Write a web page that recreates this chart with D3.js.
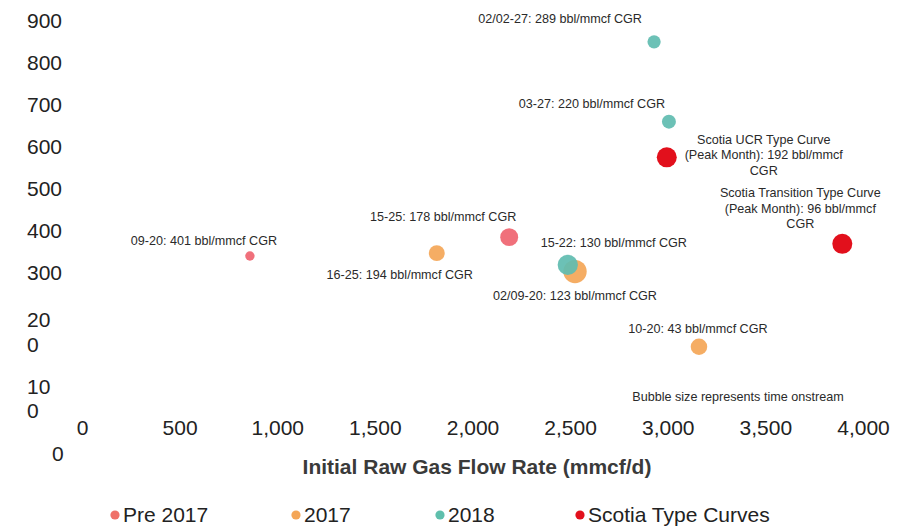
<!DOCTYPE html>
<html><head><meta charset="utf-8">
<script src="https://cdn.jsdelivr.net/npm/d3@7"></script>
<style>
html,body{margin:0;padding:0;background:#fff;}
svg{display:block;font-family:"Liberation Sans",Arial,sans-serif;}
</style></head>
<body>
<svg id="chart" width="908" height="527"></svg>
<script>
// ---- data ----
const wellNames = ["09-20","15-25","16-25","02/09-20","10-20","15-22","02/02-27","03-27","Scotia UCR","Scotia Transition"];
const wellGroups = ["Pre 2017","Pre 2017","2017","2017","2017","2018","2018","2018","Scotia Type Curves","Scotia Type Curves"];
const gasRate = [860, 2188, 1817, 2525, 3160, 2488, 2930, 3006, 2995, 3894];      // mmcf/d
const yValue = [338, 383, 345, 301, 122, 317, 848, 658, 573, 367];
const timeOnstream = [1.8, 6.6, 5.2, 11.2, 5.6, 8.4, 3.6, 4.0, 8.2, 8.2];
const labelTexts = [
  ["09-20: 401 bbl/mmcf CGR"],
  ["15-25: 178 bbl/mmcf CGR"],
  ["16-25: 194 bbl/mmcf CGR"],
  ["02/09-20: 123 bbl/mmcf CGR"],
  ["10-20: 43 bbl/mmcf CGR"],
  ["15-22: 130 bbl/mmcf CGR"],
  ["02/02-27: 289 bbl/mmcf CGR"],
  ["03-27: 220 bbl/mmcf CGR"],
  ["Scotia UCR Type Curve","(Peak Month): 192 bbl/mmcf","CGR"],
  ["Scotia Transition Type Curve","(Peak Month): 96 bbl/mmcf","CGR"]
];
const legendGroups = ["Pre 2017","2017","2018","Scotia Type Curves"];
const xTickValues = [0,500,1000,1500,2000,2500,3000,3500,4000];
const yTickValues = [900,800,700,600,500,400,300,200,100,0];
const xTitle = "Initial Raw Gas Flow Rate (mmcf/d)";
const noteText = "Bubble size represents time onstream";

// ---- layout / style ----
const colors = {"Pre 2017":"#ef7068","2017":"#f4a657","2018":"#5fbfac","Scotia Type Curves":"#e2101c"};
const groupFill = {"Pre 2017":"#ef6470","2017":"#f4a657","2018":"#5fbcb0","Scotia Type Curves":"#e2101c"};
// label offsets relative to bubble (dx, dy of first line centre)
const labelOffsets = [[-46,-16],[-66,-21],[-37,21],[0,24],[-1,-18],[46,-22],[-94,-23],[-77,-18],[97,-18],[-42,-51]];
const drawOrder = [0,1,2,3,4,5,6,7,8,9];

const svg = d3.select("#chart");
const x = d3.scaleLinear().domain([0,4000]).range([82,863]);
const y = d3.scaleLinear().domain([0,900]).range([398,20]);
const r = d3.scaleSqrt().domain([0,12]).range([0,12.1]);

// x axis ticks
const xAxis = d3.axisBottom(x).tickValues(xTickValues).tickFormat(d3.format(",")).tickSize(0).tickPadding(0);
const gx = svg.append("g").attr("transform","translate(0,422)").call(xAxis);
gx.select(".domain").remove();
gx.selectAll("text").attr("font-size",21).attr("fill","#222")
  .attr("font-family","'Liberation Sans',Arial,sans-serif").attr("dy","0.6em");

// y axis tick labels (reproducing wrapped lower labels)
const yExtra = {200:[[5,"20"],[30,"0"]],100:[[30,"10"],[54,"0"]],0:[[55,"0"]]};
const gy = svg.append("g");
yTickValues.forEach(v=>{
  const lines = yExtra[v] || [[0,String(v)]];
  lines.forEach(([dy,t])=>{
    gy.append("text").attr("x", v===0 ? 52 : 27).attr("y", y(v)+dy)
      .attr("dy","0.36em").attr("font-size",21).attr("fill","#222").text(t);
  });
});

// bubbles
svg.append("g").selectAll("circle").data(drawOrder).join("circle")
  .attr("cx",i=>x(gasRate[i])).attr("cy",i=>y(yValue[i]))
  .attr("r",i=>r(timeOnstream[i]))
  .attr("fill",i=>groupFill[wellGroups[i]])
  .attr("fill-opacity",i=>wellGroups[i]==="Scotia Type Curves"?1:0.92);

// labels
const gl = svg.append("g");
drawOrder.forEach(i=>{
  const cx = x(gasRate[i]) + labelOffsets[i][0];
  const cy = y(yValue[i]) + labelOffsets[i][1];
  labelTexts[i].forEach((t,k)=>{
    gl.append("text").attr("x",cx).attr("y",cy+k*15.5).attr("dy","0.36em")
      .attr("text-anchor","middle").attr("font-size",12.6).attr("fill","#2a2a2a").text(t);
  });
});

// note
svg.append("text").attr("x",738).attr("y",396).attr("dy","0.36em").attr("text-anchor","middle")
  .attr("font-size",12.6).attr("fill","#2a2a2a").text(noteText);

// x title
svg.append("text").attr("x",477).attr("y",466).attr("dy","0.36em").attr("text-anchor","middle")
  .attr("font-size",21).attr("font-weight","bold").attr("fill","#3a3a3a").text(xTitle);

// legend
const legendX = [115,296,440,580];
const lg = svg.append("g");
legendGroups.forEach((g,i)=>{
  lg.append("circle").attr("cx",legendX[i]).attr("cy",515).attr("r",4.6).attr("fill",colors[g]);
  lg.append("text").attr("x",legendX[i]+8).attr("y",514).attr("dy","0.36em")
    .attr("font-size",21).attr("fill","#222").text(g);
});
</script>
</body></html>
